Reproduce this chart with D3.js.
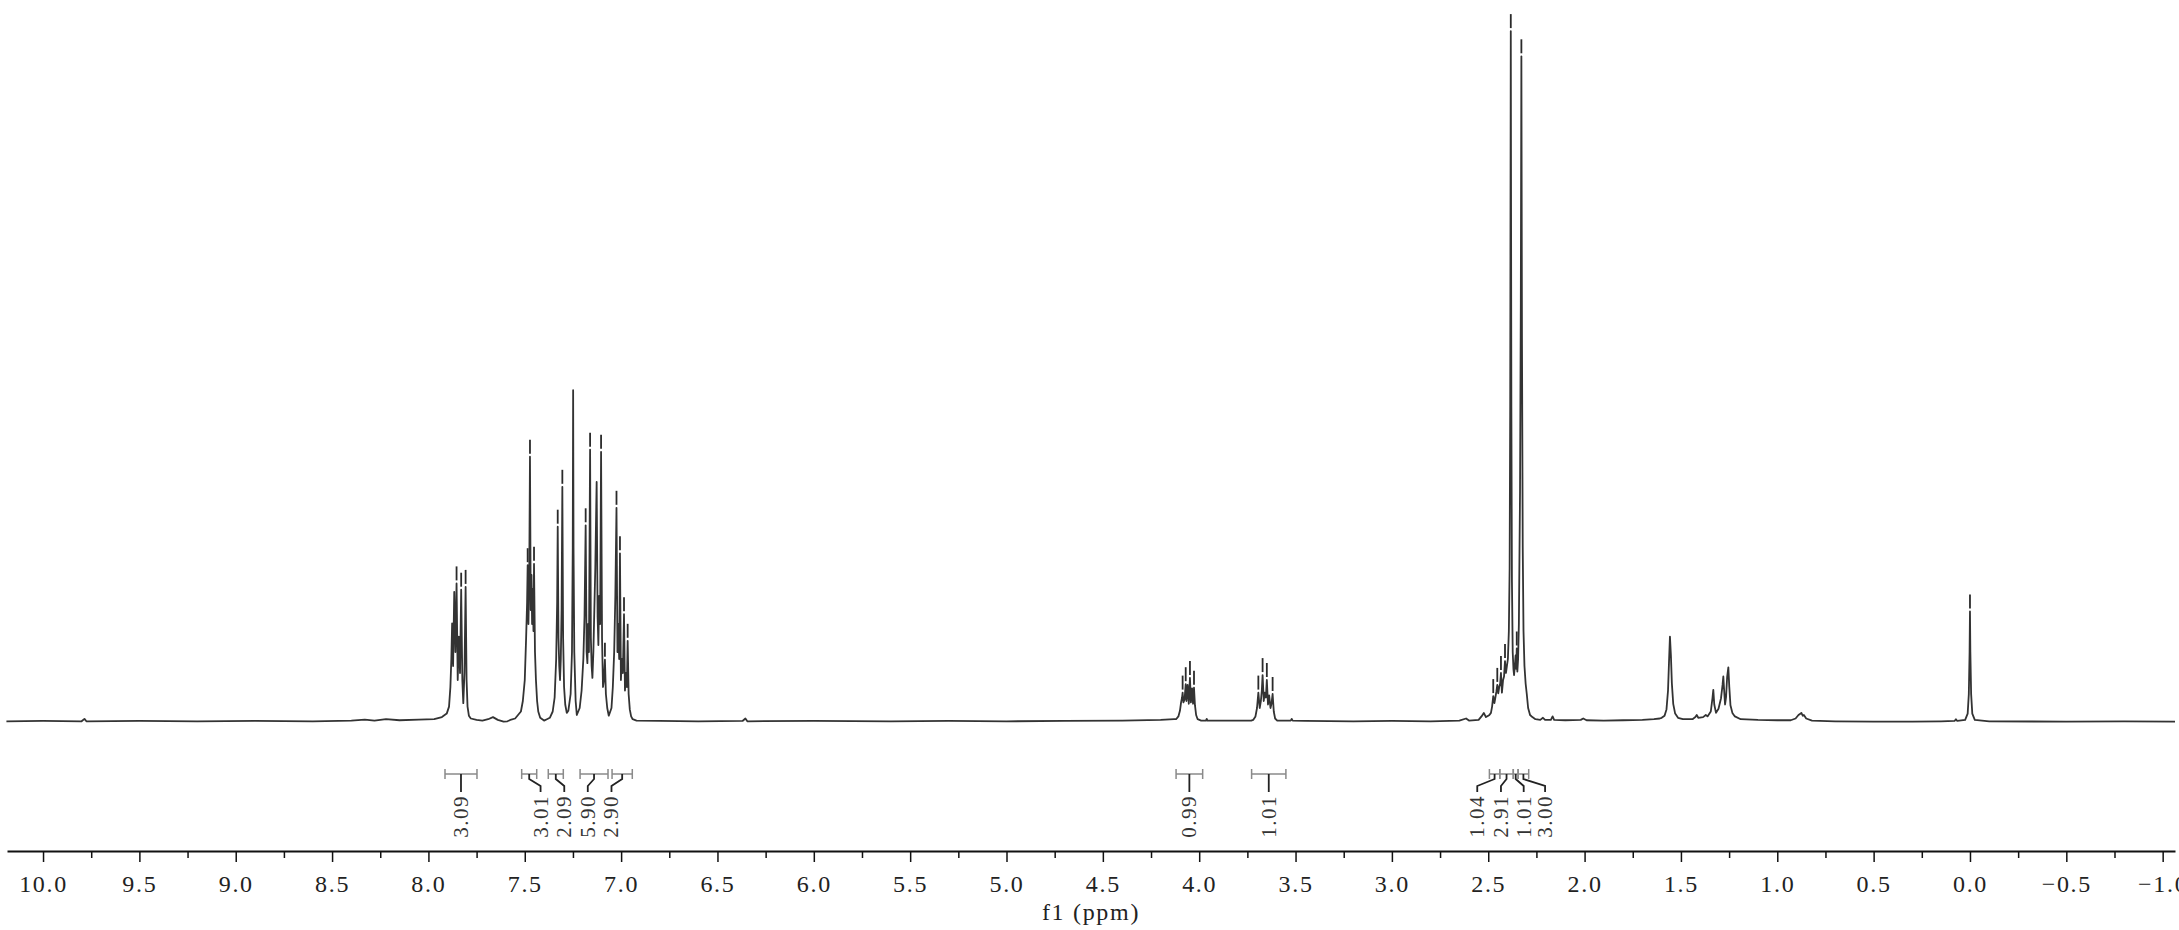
<!DOCTYPE html>
<html><head><meta charset="utf-8">
<script src="https://cdn.jsdelivr.net/npm/d3@7"></script>
<style>html,body{margin:0;padding:0;background:#fff;} svg{display:block}</style>
</head><body><svg id="c" width="2179" height="930"></svg>
<script>
// ---------- DATA (ppm, intensity) ----------
const baseLeft = [[10.19,0.1],[10.0,0.15],[9.80,0.1],[9.785,0.45],[9.775,0.1],[9.5,0.15],[9.2,0.1],[8.9,0.15],[8.6,0.1],[8.40,0.2],[8.33,0.35],[8.28,0.2],[8.22,0.4],[8.15,0.25],[8.05,0.35],[7.97,0.4],[7.93,0.7]];
const m785 = [[7.905,1.2],[7.893,2.2],[7.886,5],[7.881,9],[7.877,14.1],[7.872,8],[7.866,18.6],[7.860,10],[7.854,19.8],[7.848,6],[7.842,12.2],[7.836,7],[7.830,18.9],[7.824,6],[7.819,2.7],[7.813,7],[7.807,19.3],[7.802,6],[7.797,2.2],[7.790,0.9],[7.78,0.5]];
const base76 = [[7.75,0.3],[7.72,0.2],[7.69,0.4],[7.665,0.7],[7.64,0.3],[7.61,0.05],[7.59,0.1],[7.57,0.35],[7.55,0.5],[7.535,1.0]];
const m747 = [[7.52,1.5],[7.51,3],[7.500,6],[7.493,12],[7.488,17],[7.485,22.4],[7.481,14],[7.477,20],[7.473,37.9],[7.469,16],[7.465,21],[7.462,14],[7.458,19],[7.455,13],[7.452,22.6],[7.447,10],[7.442,6],[7.436,3],[7.43,1.5],[7.42,0.6],[7.40,0.2],[7.385,0.4]];
const m731 = [[7.37,0.6],[7.355,1.5],[7.345,3.5],[7.337,9],[7.332,17],[7.329,27.9],[7.325,12],[7.321,8],[7.317,6],[7.313,9],[7.309,16],[7.305,33.6],[7.301,12],[7.296,5],[7.29,2.5],[7.282,1.3]];
const solvent = [[7.274,1.6],[7.262,4],[7.255,10],[7.251,25],[7.249,47.4],[7.247,25],[7.243,10],[7.236,3],[7.230,1.0]];
const m714 = [[7.215,2],[7.205,4.5],[7.196,9],[7.190,15],[7.184,28.1],[7.179,10],[7.175,8.4],[7.171,14],[7.167,10],[7.161,38.9],[7.157,12],[7.153,8],[7.149,6.3],[7.144,10],[7.139,16],[7.134,22],[7.127,34.3],[7.122,15],[7.118,11],[7.114,18],[7.109,14],[7.104,38.6],[7.099,12],[7.094,5],[7.089,6],[7.084,8.9],[7.079,4],[7.072,2],[7.064,0.9]];
const m700 = [[7.05,2],[7.043,5],[7.036,10],[7.030,18],[7.024,30.6],[7.019,10],[7.015,14],[7.010,9],[7.006,24.1],[7.001,6],[6.996,9],[6.991,7],[6.985,15.4],[6.980,4.5],[6.975,7],[6.970,5],[6.966,11.6],[6.961,4],[6.955,1.8],[6.948,0.8],[6.94,0.4]];
const baseMid = [[6.92,0.2],[6.80,0.15],[6.6,0.1],[6.37,0.15],[6.355,0.5],[6.345,0.1],[6.0,0.15],[5.6,0.1],[5.3,0.15],[5.0,0.1],[4.7,0.15],[4.4,0.2],[4.2,0.3],[4.13,0.4]];
const m406 = [[4.12,0.4],[4.108,0.8],[4.100,1.6],[4.094,2.8],[4.089,3.5],[4.086,4.2],[4.082,2.8],[4.076,3.2],[4.070,5.4],[4.066,3.0],[4.060,5.3],[4.054,2.6],[4.048,6.3],[4.043,2.8],[4.037,4.8],[4.032,2.6],[4.027,4.9],[4.022,2.4],[4.016,1.0],[4.008,0.4],[3.99,0.2],[3.965,0.2],[3.961,0.45],[3.957,0.2]];
const m366 = [[3.73,0.2],[3.72,0.3],[3.708,0.8],[3.700,2],[3.693,4.2],[3.686,2.0],[3.680,3.0],[3.675,4.5],[3.671,6.7],[3.665,3.0],[3.660,4.2],[3.654,3.5],[3.649,6.0],[3.643,2.5],[3.637,3.8],[3.630,2.0],[3.625,2.6],[3.619,4.0],[3.613,1.5],[3.606,0.5],[3.595,0.2],[3.525,0.2],[3.520,0.45],[3.515,0.2]];
const base30 = [[3.45,0.15],[3.2,0.1],[3.0,0.15],[2.8,0.1],[2.65,0.2],[2.615,0.5],[2.60,0.2],[2.55,0.3],[2.535,0.8],[2.523,1.3],[2.512,0.7],[2.500,0.9]];
const m240 = [[2.494,1.0],[2.486,1.3],[2.480,2.2],[2.474,3.7],[2.468,2.7],[2.463,3.5],[2.458,4.3],[2.453,5.3],[2.448,4.1],[2.443,5.0],[2.438,5.5],[2.434,7.0],[2.429,4.2],[2.423,6.0],[2.418,6.5],[2.413,8.7],[2.408,7.0],[2.403,8],[2.398,9],[2.393,13],[2.389,22],[2.386,45],[2.383,98.7],[2.380,45],[2.377,20],[2.373,10],[2.369,7.5],[2.366,6.7],[2.362,8],[2.358,9.5],[2.355,7.6],[2.352,10.5],[2.349,7.2],[2.345,9],[2.341,14],[2.335,33],[2.331,60],[2.328,95.1],[2.325,55],[2.321,25],[2.317,13],[2.312,8],[2.306,5.5],[2.300,4],[2.293,2],[2.283,1.0],[2.271,0.7],[2.255,0.4]];
const base20 = [[2.23,0.3],[2.216,0.6],[2.205,0.3],[2.175,0.3],[2.166,0.8],[2.158,0.3],[2.10,0.25],[2.02,0.3],[2.007,0.5],[1.99,0.25],[1.90,0.2],[1.80,0.25],[1.70,0.3],[1.64,0.4],[1.61,0.5]];
const water = [[1.60,0.6],[1.585,0.9],[1.575,1.8],[1.567,4.5],[1.562,8.5],[1.557,12.2],[1.552,9.5],[1.547,5.5],[1.540,2.6],[1.530,1.2],[1.515,0.6],[1.49,0.4]];
const m128 = [[1.44,0.4],[1.425,0.7],[1.418,1.0],[1.410,0.6],[1.385,0.7],[1.371,1.0],[1.362,0.8],[1.345,1.5],[1.336,3.5],[1.332,4.6],[1.327,2.5],[1.318,1.3],[1.305,1.9],[1.292,3.4],[1.284,5.3],[1.280,6.5],[1.276,4.6],[1.271,2.5],[1.266,3.5],[1.260,6.5],[1.254,7.8],[1.249,5.0],[1.243,2.4],[1.233,1.3],[1.22,0.8],[1.19,0.4],[1.10,0.3],[1.0,0.25]];
const m088 = [[0.93,0.25],[0.905,0.5],[0.89,1.0],[0.875,1.3],[0.868,0.9],[0.862,1.0],[0.85,0.5],[0.82,0.2],[0.7,0.1]];
const tms = [[0.5,0.05],[0.3,0.05],[0.15,0.1],[0.08,0.15],[0.073,0.4],[0.066,0.15],[0.025,0.3],[0.012,1.2],[0.006,4],[0.002,10],[0.0,15.8],[-0.002,10],[-0.006,4],[-0.012,1.2],[-0.025,0.3],[-0.1,0.1],[-0.5,0.05],[-0.8,0.1],[-1.064,0.05]];

// peak-pick markers
const markerPpm = [7.854,7.830,7.807, 7.485,7.473,7.452, 7.329,7.305, 7.184,7.161,7.104,7.084, 7.024,7.006,6.985,6.966, 4.086,4.070,4.048,4.027, 3.693,3.671,3.649,3.619, 2.474,2.453,2.434,2.413,2.383,2.352,2.328, 0.0];
const markerIntensity = [19.8,18.9,19.3, 22.4,37.9,22.6, 27.9,33.6, 28.1,38.9,38.6,8.9, 30.6,24.1,15.4,11.6, 4.2,5.4,6.3,4.9, 4.2,6.7,6.0,4.0, 3.7,5.3,7.0,8.7,98.7,10.5,95.1, 15.8];

// integrals
const integralLabels = ["3.09","3.01","2.09","5.90","2.90","0.99","1.01","1.04","2.91","1.01","3.00"];
const integralFrom = [7.914,7.516,7.378,7.213,7.047,4.120,3.728,2.494,2.440,2.370,2.345];
const integralTo   = [7.748,7.438,7.300,7.068,6.942,3.982,3.550,2.440,2.370,2.345,2.290];
const integralLabelPpm = [7.831,7.418,7.295,7.173,7.050,4.051,3.639,2.557,2.434,2.316,2.205];

// axis
const majorTicks = [10,9.5,9,8.5,8,7.5,7,6.5,6,5.5,5,4.5,4,3.5,3,2.5,2,1.5,1,0.5,0,-0.5,-1];
const tickLabels = ["10.0","9.5","9.0","8.5","8.0","7.5","7.0","6.5","6.0","5.5","5.0","4.5","4.0","3.5","3.0","2.5","2.0","1.5","1.0","0.5","0.0","\u22120.5","\u22121.0"];
const minorTicks = [9.75,9.25,8.75,8.25,7.75,7.25,6.75,6.25,5.75,5.25,4.75,4.25,3.75,3.25,2.75,2.25,1.75,1.25,0.75,0.25,-0.25,-0.75];
const axisTitle = "f1 (ppm)";

// ---------- DRAW ----------
const trace = [].concat(baseLeft,m785,base76,m747,m731,solvent,m714,m700,baseMid,m406,m366,base30,m240,base20,water,m128,m088,tms);
const svg = d3.select("#c");
const x = d3.scaleLinear().domain([10.187,-1.064]).range([7,2175]);
const y = d3.scaleLinear().domain([0,100]).range([722,22]);
const serif = "'Liberation Serif','DejaVu Serif',serif";

svg.append("path").datum(trace)
  .attr("d", d3.line().x(d=>x(d[0])).y(d=>y(d[1])))
  .attr("fill","none").attr("stroke","#333").attr("stroke-width",1.8).attr("stroke-linejoin","round");

// markers
svg.append("g").selectAll("line").data(markerPpm).join("line")
  .attr("x1",d=>x(d)).attr("x2",d=>x(d))
  .attr("y1",(d,i)=>y(markerIntensity[i])-3)
  .attr("y2",(d,i)=>y(markerIntensity[i])-17)
  .attr("stroke","#2a2a2a").attr("stroke-width",1.8);

// integrals
const barY = 774, stemEnd = 792;
const ig = svg.append("g");
integralLabels.forEach((lab,i)=>{
  const a = x(integralFrom[i]), b = x(integralTo[i]);
  const cx = (a+b)/2, lx = x(integralLabelPpm[i]);
  ig.append("path").attr("d",`M${a},${barY}H${b}M${a},${barY-5}V${barY+5}M${b},${barY-5}V${barY+5}`)
    .attr("stroke","#8a8a8a").attr("stroke-width",1.5).attr("fill","none");
  let p;
  if (Math.abs(cx-lx) < 2) p = `M${lx},${barY}V${stemEnd}`;
  else p = `M${cx},${barY}V${barY+5}L${lx},${barY+12}V${stemEnd}`;
  ig.append("path").attr("d",p).attr("stroke","#222").attr("stroke-width",1.8).attr("fill","none");
  ig.append("text").attr("transform",`translate(${lx},${stemEnd+3}) rotate(-90)`)
    .attr("text-anchor","end").attr("dominant-baseline","central")
    .attr("font-family",serif).attr("font-size",21).attr("letter-spacing",1.5)
    .attr("fill","#333").text(lab);
});

// axis
const gx = svg.append("g").attr("transform","translate(0,851)");
gx.call(d3.axisBottom(x).tickValues(majorTicks).tickFormat((d,i)=>tickLabels[i])
  .tickSize(11).tickSizeOuter(0).tickPadding(13));
gx.select(".domain").attr("stroke","#111").attr("stroke-width",2.2);
gx.selectAll(".tick line").attr("stroke","#111").attr("stroke-width",1.5);
gx.selectAll(".tick text").attr("font-family",serif).attr("font-size",24)
  .attr("letter-spacing",1.7).attr("fill","#222");
const gm = svg.append("g").attr("transform","translate(0,851)");
gm.call(d3.axisBottom(x).tickValues(minorTicks).tickFormat("").tickSize(7).tickSizeOuter(0));
gm.select(".domain").remove();
gm.selectAll(".tick line").attr("stroke","#111").attr("stroke-width",1.5);

svg.append("text").attr("x",1091).attr("y",920).attr("text-anchor","middle")
  .attr("font-family",serif).attr("font-size",24).attr("letter-spacing",1.7)
  .attr("fill","#222").text(axisTitle);
</script></body></html>
